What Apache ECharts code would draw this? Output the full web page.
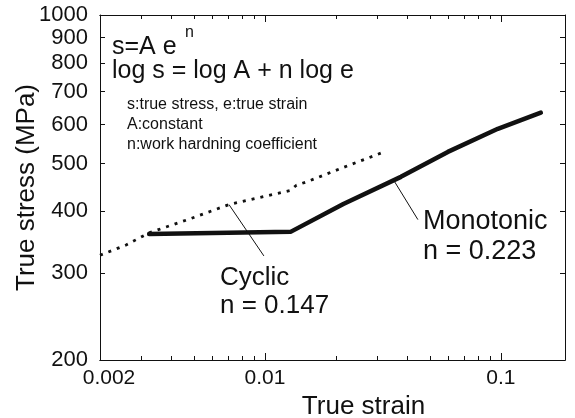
<!DOCTYPE html>
<html>
  <head>
    <meta charset="utf-8" />
    <title>True stress - true strain</title>
    <script src="https://cdn.jsdelivr.net/npm/echarts@6/dist/echarts.min.js"></script>
    <style>
      body { margin: 0; background: #fff; }
      #main { width: 575px; height: 418px; }
    </style>
  </head>
  <body>
    <div id="main"></div>
    <script type="text/javascript">
// data: [true strain, true stress MPa]
var monotonic = [[0.00323, 360], [0.0129, 364], [0.0215, 414], [0.0377, 470], [0.0596, 528], [0.0971, 588], [0.1477, 634]];
var cyclic = [[0.002, 326], [0.00258, 342], [0.00323, 362], [0.00486, 387], [0.00704, 413], [0.0128, 441], [0.0136, 452], [0.0152, 460], [0.021, 489], [0.031, 525]];
// leader lines from the curves to their labels
var cyclicLeader = [[0.00704, 413], [0.0099, 325]];
var monoLeader = [[0.0352, 462], [0.0445, 385]];

var xLabels = [0.002, 0.01, 0.1];
var xMajor = [0.01, 0.1];
var xMinor = [0.003, 0.004, 0.005, 0.006, 0.007, 0.008, 0.009, 0.02, 0.03, 0.04, 0.05, 0.06, 0.07, 0.08, 0.09];
var yLabels = [200, 300, 400, 500, 600, 700, 800, 900, 1000];
var yTicks = [300, 400, 500, 600, 700, 800, 900];

var FONT = 'Liberation Sans, Arial, sans-serif';
var INK = '#111';

var chart = echarts.init(document.getElementById('main'));

function xAx(pos, ticks, len, extra) {
  var a = {
    type: 'log', logBase: 10, min: 0.002, max: 0.187, position: pos,
    axisLine: { show: true, lineStyle: { color: INK, width: 1 } },
    axisTick: { show: true, inside: true, length: len, customValues: ticks, lineStyle: { color: INK } },
    axisLabel: { show: false },
    splitLine: { show: false }
  };
  return Object.assign(a, extra || {});
}

var option = {
  animation: false,
  grid: { left: 100, right: 10, top: 15, bottom: 58, outerBoundsMode: 'none', containLabel: false },
  xAxis: [
    xAx('bottom', xMajor, 7, {
      name: 'True strain',
      nameLocation: 'middle',
      nameGap: 32,
      nameTextStyle: { fontFamily: FONT, fontSize: 26, color: INK, padding: [0, 0, 0, 62] },
      axisLabel: {
        show: true, customValues: xLabels, margin: 8,
        fontFamily: FONT, fontSize: 21, color: INK,
        formatter: function (v) { return v === 0.002 ? '{a|0.002}' : String(v); },
        rich: { a: { fontFamily: FONT, fontSize: 21, color: INK, padding: [0, 0, 0, 18] } }
      }
    }),
    xAx('bottom', xMinor, 4),
    xAx('top', xMajor, 7),
    xAx('top', xMinor, 4)
  ],
  yAxis: [
    {
      type: 'log', logBase: 10, min: 200, max: 1000, position: 'left',
      name: 'True stress (MPa)',
      nameLocation: 'middle',
      nameGap: 60,
      nameMoveOverlap: false,
      nameTextStyle: { fontFamily: FONT, fontSize: 26, color: INK },
      axisLine: { show: true, lineStyle: { color: INK, width: 1 } },
      axisTick: { show: true, inside: true, length: 5, customValues: yTicks, lineStyle: { color: INK } },
      axisLabel: {
        customValues: yLabels, margin: 12, fontFamily: FONT, fontSize: 22, color: INK,
        formatter: function (v) { return String(v); }
      },
      splitLine: { show: false }
    },
    {
      type: 'log', logBase: 10, min: 200, max: 1000, position: 'right',
      axisLine: { show: true, lineStyle: { color: INK, width: 1 } },
      axisTick: { show: true, inside: true, length: 5, customValues: yTicks, lineStyle: { color: INK } },
      axisLabel: { show: false },
      splitLine: { show: false }
    }
  ],
  series: [
    {
      name: 'Cyclic', type: 'line', data: cyclic, symbol: 'none',
      lineStyle: { color: INK, width: 2.8, type: [3, 6], cap: 'butt' },
      markLine: {
        silent: true, symbol: 'none', label: { show: false },
        lineStyle: { color: INK, width: 1, type: 'solid' },
        data: [[{ coord: cyclicLeader[0] }, { coord: cyclicLeader[1] }]]
      }
    },
    {
      name: 'Monotonic', type: 'line', data: monotonic, symbol: 'none',
      lineStyle: { color: INK, width: 4.5, cap: 'round', join: 'round' },
      markLine: {
        silent: true, symbol: 'none', label: { show: false },
        lineStyle: { color: INK, width: 1, type: 'solid' },
        data: [[{ coord: monoLeader[0] }, { coord: monoLeader[1] }]]
      }
    }
  ],
  graphic: [
    { type: 'text', left: 112, top: 35, style: { text: 's=A e', font: '25px ' + FONT, fill: INK } },
    { type: 'text', left: 185, top: 25, style: { text: 'n', font: '16px ' + FONT, fill: INK } },
    { type: 'text', left: 112, top: 59, style: { text: 'log s = log A + n log e', font: '25px ' + FONT, fill: INK } },
    { type: 'text', left: 127, top: 97, style: { text: 's:true stress, e:true strain', font: '16px ' + FONT, fill: INK } },
    { type: 'text', left: 127, top: 117, style: { text: 'A:constant', font: '16px ' + FONT, fill: INK } },
    { type: 'text', left: 127, top: 137, style: { text: 'n:work hardning coefficient', font: '16px ' + FONT, fill: INK } },
    { type: 'text', left: 220, top: 265, style: { text: 'Cyclic', font: '26px ' + FONT, fill: INK } },
    { type: 'text', left: 220, top: 293, style: { text: 'n = 0.147', font: '26px ' + FONT, fill: INK } },
    { type: 'text', left: 423, top: 208, style: { text: 'Monotonic', font: '27px ' + FONT, fill: INK } },
    { type: 'text', left: 423, top: 238, style: { text: 'n = 0.223', font: '27px ' + FONT, fill: INK } }
  ]
};

chart.setOption(option);
    </script>
  </body>
</html>
